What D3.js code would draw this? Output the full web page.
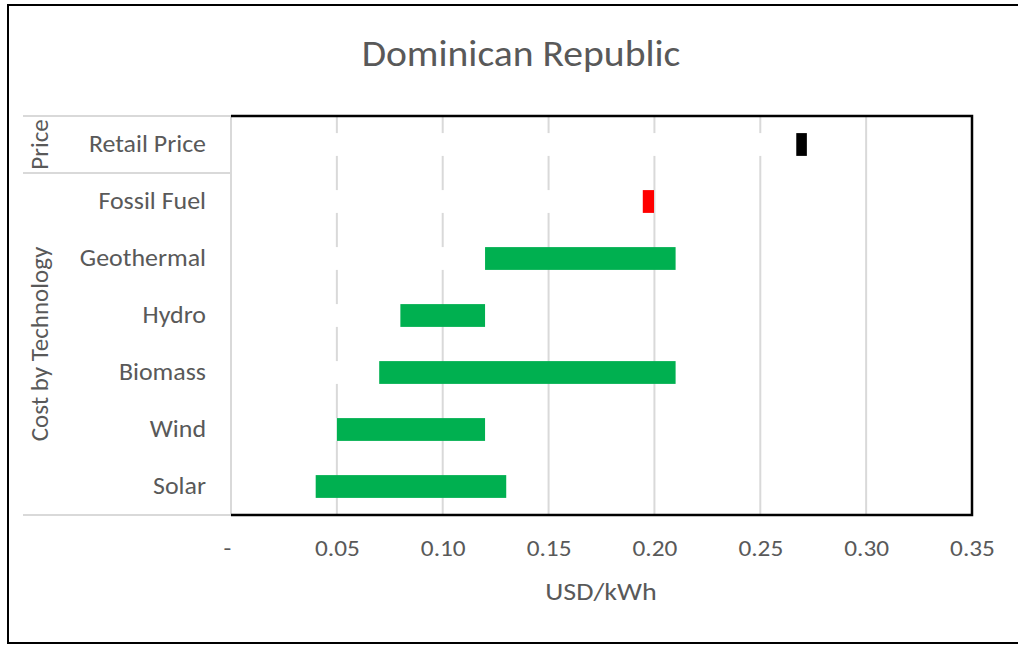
<!DOCTYPE html>
<html>
<head>
<meta charset="utf-8">
<script src="https://cdn.jsdelivr.net/npm/d3@7"></script>
<style>
  html, body { margin: 0; padding: 0; background: #fff; }
  svg text { font-family: Carlito, Calibri, "Open Sans", sans-serif; fill: #595959; }
</style>
</head>
<body>
<svg id="chart" width="1018" height="645"></svg>
<script>
// Levelized cost ranges by technology and the retail tariff (USD/kWh)
const categories = ["Retail Price", "Fossil Fuel", "Geothermal", "Hydro", "Biomass", "Wind", "Solar"];
const groups = ["Price", "Cost by Technology", "Cost by Technology", "Cost by Technology", "Cost by Technology", "Cost by Technology", "Cost by Technology"];
const lowValues  = [0.267, 0.1945, 0.12, 0.08, 0.07, 0.05, 0.04];
const highValues = [0.272, 0.1998, 0.21, 0.12, 0.21, 0.12, 0.13];
const barColors  = ["#000000", "#FF0000", "#00B050", "#00B050", "#00B050", "#00B050", "#00B050"];
const xTicks = [0, 0.05, 0.10, 0.15, 0.20, 0.25, 0.30, 0.35];

const svg = d3.select("#chart");
const plot = { left: 231, right: 972, top: 116, bottom: 515 };
const STRETCH = 1.1; // text is drawn slightly wide

// place a text at (x, y) with a horizontal stretch
function wideText(sel, x, y, size, anchor, stretch = STRETCH) {
  return sel.append("text")
    .attr("transform", `translate(${x},${y}) scale(${stretch},1)`)
    .attr("text-anchor", anchor)
    .style("font-size", size + "px");
}

// outer frame
svg.append("path")
  .attr("d", "M1030,5 H8 V643 H1030")
  .attr("fill", "none").attr("stroke", "#000").attr("stroke-width", 2);

wideText(svg, 521, 66, 36, "middle").text("Dominican Republic");

const x = d3.scaleLinear().domain([0, 0.35]).range([plot.left, plot.right]);
const y = d3.scaleBand().domain(categories).range([plot.top, plot.bottom]).paddingInner(0.6).paddingOuter(0.3);

// vertical gridlines
svg.append("g").selectAll("line")
  .data(xTicks.filter(t => t > 0 && t < 0.35))
  .join("line")
  .attr("x1", d => x(d)).attr("x2", d => x(d))
  .attr("y1", plot.top).attr("y2", plot.bottom)
  .attr("stroke", "#d9d9d9").attr("stroke-width", 2);

// stacked bars: a white base segment up to the low value, then the range segment
const rows = svg.append("g").selectAll("g").data(categories).join("g");
rows.append("rect")
  .attr("x", x(0))
  .attr("y", d => y(d))
  .attr("width", (d, i) => x(lowValues[i]) - x(0))
  .attr("height", y.bandwidth())
  .attr("fill", "#fff");
rows.append("rect")
  .attr("x", (d, i) => x(lowValues[i]))
  .attr("y", d => y(d))
  .attr("width", (d, i) => x(highValues[i]) - x(lowValues[i]))
  .attr("height", y.bandwidth())
  .attr("fill", (d, i) => barColors[i]);

// category axis lines
const axisGray = "#d9d9d9";
svg.append("line")
  .attr("x1", plot.left).attr("x2", plot.left)
  .attr("y1", plot.top).attr("y2", plot.bottom)
  .attr("stroke", axisGray).attr("stroke-width", 2);
const step = y.step();
const groupNames = Array.from(new Set(groups));
const groupSpans = groupNames.map(g => {
  const idx = categories.filter((c, i) => groups[i] === g);
  const y0 = y(idx[0]) - y.paddingInner() * step / 2;
  const y1 = y(idx[idx.length - 1]) + y.bandwidth() + y.paddingInner() * step / 2;
  return { name: g, y0: Math.max(plot.top, y0), y1: Math.min(plot.bottom, y1) };
});
const boundaries = [plot.top].concat(groupSpans.map(s => s.y1));
svg.append("g").selectAll("line").data(boundaries).join("line")
  .attr("x1", 23).attr("x2", plot.left)
  .attr("y1", d => d).attr("y2", d => d)
  .attr("stroke", axisGray).attr("stroke-width", 2);

// category labels
const catG = svg.append("g");
categories.forEach(c => {
  wideText(catG, 206, y(c) + y.bandwidth() / 2 + 7, 24, "end", 1.08).text(c);
});

// group labels, rotated
svg.append("g").selectAll("text").data(groupSpans).join("text")
  .attr("transform", d => `translate(48,${(d.y0 + d.y1) / 2}) rotate(-90)`)
  .attr("text-anchor", "middle")
  .style("font-size", "25px")
  .text(d => d.name);

// plot border (top, right, bottom)
svg.append("path")
  .attr("d", `M${plot.left},${plot.top} H${plot.right} V${plot.bottom} H${plot.left}`)
  .attr("fill", "none").attr("stroke", "#000").attr("stroke-width", 2.5);

// value axis
const xAxis = d3.axisBottom(x)
  .tickValues(xTicks)
  .tickSize(0)
  .tickPadding(0)
  .tickFormat(d => d === 0 ? "-" : d3.format(".2f")(d));
const gx = svg.append("g").attr("transform", `translate(0,${plot.bottom})`).call(xAxis);
gx.select(".domain").remove();
gx.selectAll(".tick text")
  .attr("y", 0).attr("dy", 0)
  .attr("transform", d => `translate(${d === 0 ? -4 : 0},41) scale(${STRETCH},1)`)
  .style("font-size", "23px")
  .attr("fill", "#595959")
  .style("font-family", "Carlito, Calibri, 'Open Sans', sans-serif");

wideText(svg, 601, 600, 25.5, "middle").text("USD/kWh");
</script>
</body>
</html>
